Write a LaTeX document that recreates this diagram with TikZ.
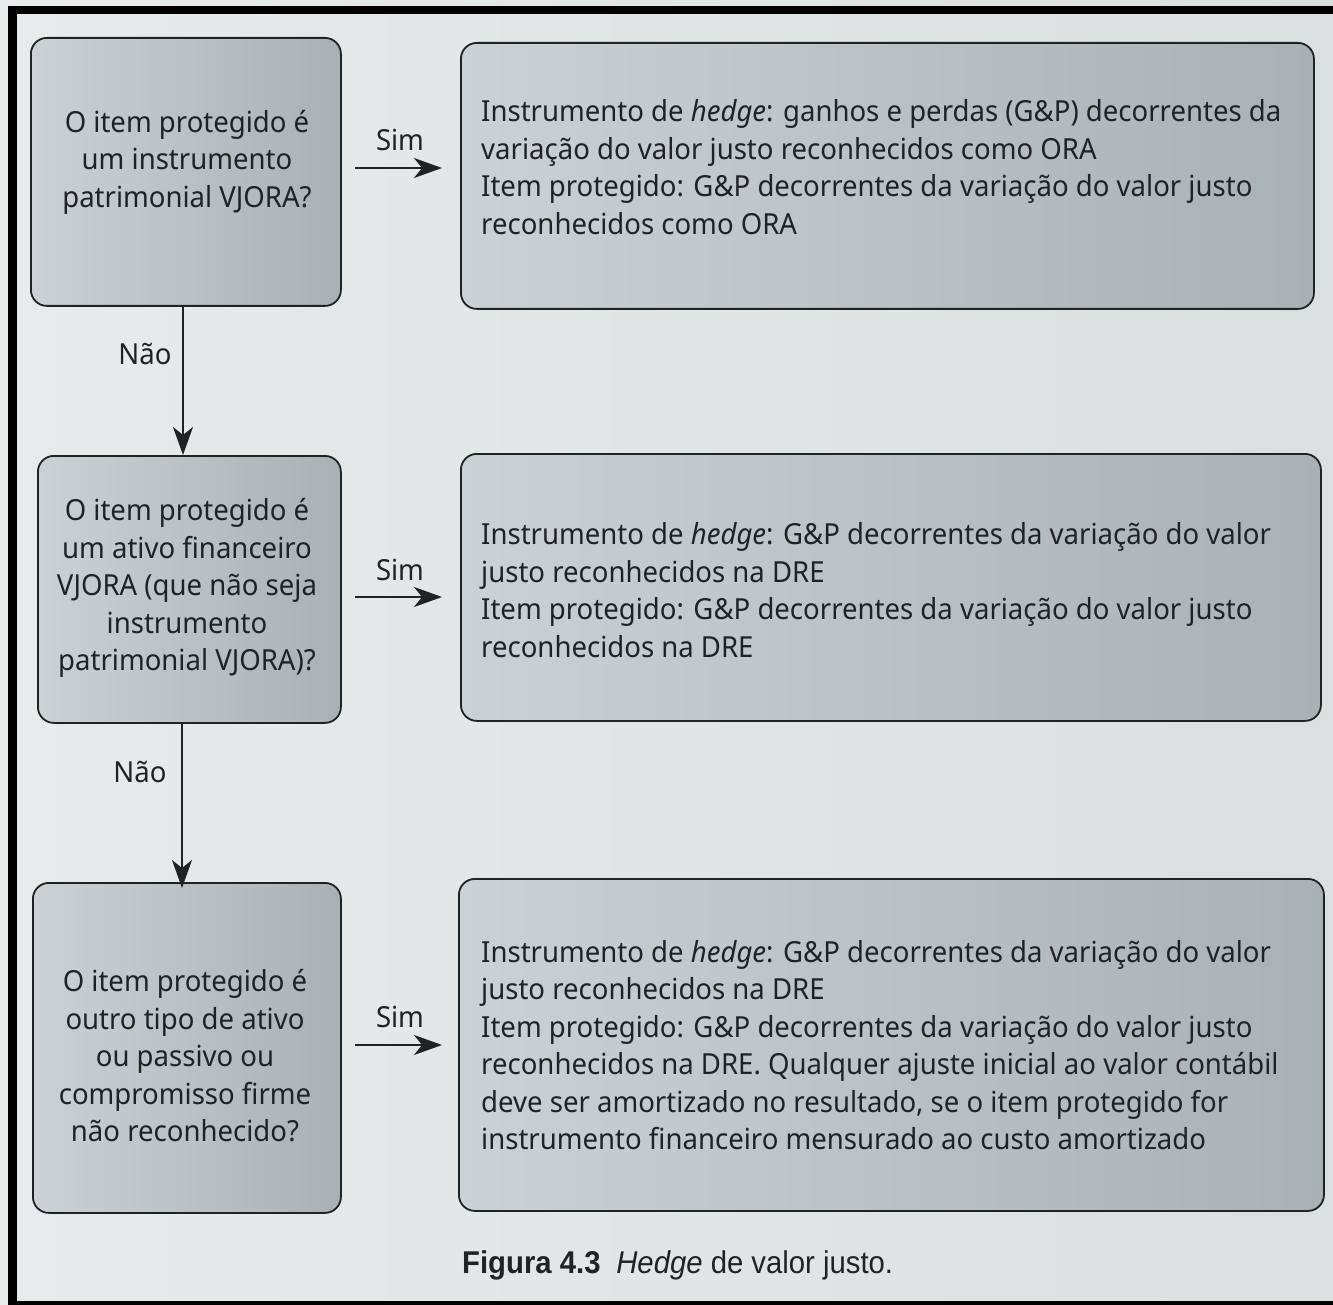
\documentclass[tikz,border=0pt]{standalone}
\usepackage{fontspec}
\setmainfont{Noto Sans}[FakeStretch=0.95]
\newfontfamily\capfont{Liberation Sans}[FakeStretch=0.93]
\usetikzlibrary{arrows.meta}
\definecolor{ink}{HTML}{202324}
\definecolor{bgL}{HTML}{E7EBEC}
\definecolor{bgR}{HTML}{DADFE0}
\definecolor{boxL}{HTML}{CBD2D5}
\definecolor{boxR}{HTML}{A8B1B4}
\tikzset{
  box/.style={draw=ink, line width=1.8pt, rounded corners=16pt, left color=boxL, right color=boxR, inner sep=0pt},
  txt/.style={font=\fontsize{29}{37.5}\selectfont, text=ink, inner sep=0pt},
  arr/.style={-{Stealth[length=28pt,width=20pt,inset=8pt]}, line width=2pt, draw=ink},
  lab/.style={font=\fontsize{29}{30}\selectfont, text=ink, inner sep=0pt}
}
\begin{document}
\begin{tikzpicture}[x=1pt,y=-1pt]
\useasboundingbox (0,0) rectangle (1333,1305);
% page background
\shade[left color=bgL, right color=bgR] (0,0) rectangle (1333,1305);
% black frame (top, left, bottom)
\fill[black] (8,6) rectangle (1333,14);
\fill[black] (8,6) rectangle (17,1305);
\fill[black] (8,1301) rectangle (1333,1305);

% left decision boxes
\node[box, anchor=north west, minimum width=310pt, minimum height=268pt] (L1) at (30,37) {};
\node[box, anchor=north west, minimum width=303pt, minimum height=267pt] (L2) at (37,455) {};
\node[box, anchor=north west, minimum width=308pt, minimum height=330pt] (L3) at (32,882) {};

% right result boxes
\node[box, anchor=north west, minimum width=853pt, minimum height=266pt] (R1) at (460,42) {};
\node[box, anchor=north west, minimum width=860pt, minimum height=267pt] (R2) at (460,453) {};
\node[box, anchor=north west, minimum width=865pt, minimum height=332pt] (R3) at (458,878) {};

% texts of left boxes
\node[txt, align=center] (L1t) at (187,162) {O item protegido é\\um instrumento\\patrimonial VJORA?};
\node[txt, align=center] (L2t) at (187,588) {O item protegido é\\um ativo financeiro\\VJORA (que não seja\\instrumento\\patrimonial VJORA)?};
\node[txt, align=center] (L3t) at (185,1056) {O item protegido é\\outro tipo de ativo\\ou passivo ou\\compromisso firme\\não reconhecido?};

% texts of right boxes
\node[txt, align=left, anchor=west] (R1t) at (481,167) {Instrumento de \textit{hedge}: ganhos e perdas (G\&P) decorrentes da\\variação do valor justo reconhecidos como ORA\\Item protegido: G\&P decorrentes da variação do valor justo\\reconhecidos como ORA};
\node[txt, align=left, anchor=west] (R2t) at (481,590) {Instrumento de \textit{hedge}: G\&P decorrentes da variação do valor\\justo reconhecidos na DRE\\Item protegido: G\&P decorrentes da variação do valor justo\\reconhecidos na DRE};
\node[txt, align=left, anchor=west] (R3t) at (481,1045) {Instrumento de \textit{hedge}: G\&P decorrentes da variação do valor\\justo reconhecidos na DRE\\Item protegido: G\&P decorrentes da variação do valor justo\\reconhecidos na DRE. Qualquer ajuste inicial ao valor contábil\\deve ser amortizado no resultado, se o item protegido for\\instrumento financeiro mensurado ao custo amortizado};

% horizontal "Sim" arrows
\coordinate (s1a) at (355,168); \coordinate (s1b) at (442,168);
\coordinate (s2a) at (355,597); \coordinate (s2b) at (442,597);
\coordinate (s3a) at (355,1045); \coordinate (s3b) at (442,1045);
\draw[arr] (s1a) -- (s1b);
\draw[arr] (s2a) -- (s2b);
\draw[arr] (s3a) -- (s3b);
\node[lab] (sim1) at (400,140) {Sim};
\node[lab] (sim2) at (400,570) {Sim};
\node[lab] (sim3) at (400,1017) {Sim};

% vertical "Não" arrows
\draw[arr] (L1.south -| 183,0) -- (L2.north -| 183,0);
\draw[arr] (L2.south -| 182,0) -- ([yshift=-6pt]L3.north -| 182,0);
\node[lab] (nao1) at (145,354) {Não};
\node[lab] (nao2) at (140,772) {Não};

% caption
\node[anchor=west, text=ink, inner sep=0pt, font=\capfont\fontsize{31.5}{34}\selectfont] (cap) at (462,1265) {\textbf{Figura 4.3}\enspace\textit{Hedge} de valor justo.};
\end{tikzpicture}
\end{document}
